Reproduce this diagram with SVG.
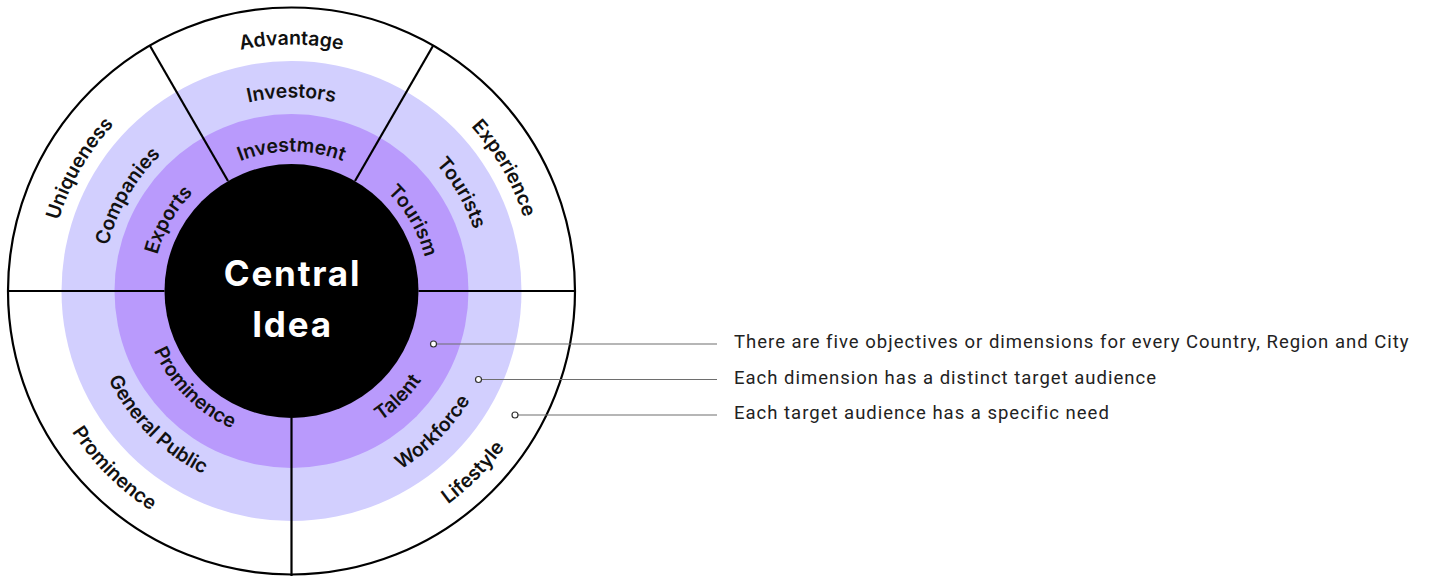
<svg xmlns="http://www.w3.org/2000/svg" width="1429" height="576" viewBox="0 0 1429 576">
<style>
.lbl{font-family:Inter,"Work Sans","Liberation Sans",sans-serif;font-weight:600;font-size:19.5px;fill:#111}
.ctr{font-family:Inter,"Liberation Sans",sans-serif;font-weight:700;font-size:35px;letter-spacing:1.8px;fill:#fff}
.div{stroke:#000;stroke-width:2.2;fill:none}
.call{stroke:#6e6e6e;stroke-width:1.2;fill:none}
.dot{fill:#fff;stroke:#333;stroke-width:1.2}
.note{font-family:Roboto,"Liberation Sans",sans-serif;font-size:18.5px;letter-spacing:1px;fill:#222}
</style>
<defs>
<path id="pAdv" d="M45,291 A246.5,246.5 0 0 1 538,291"/>
<path id="pInv" d="M98,291 A193.5,193.5 0 0 1 485,291"/>
<path id="pInvm" d="M152,291 A139.5,139.5 0 0 1 431,291"/>
<path id="pExp" d="M169.25,79.26 A244.5,244.5 0 0 1 413.75,502.74"/>
<path id="pTou" d="M195.25,124.29 A192.5,192.5 0 0 1 387.75,457.71"/>
<path id="pTism" d="M222.25,171.06 A138.5,138.5 0 0 1 360.75,410.94"/>
<path id="pUni" d="M169.25,502.74 A244.5,244.5 0 0 1 413.75,79.26"/>
<path id="pCom" d="M196.75,455.11 A189.5,189.5 0 0 1 386.25,126.89"/>
<path id="pExpo" d="M222,411.38 A139,139 0 0 1 361,170.62"/>
<path id="pLife" d="M104.47,478.03 A264.5,264.5 0 0 0 478.53,103.97"/>
<path id="pWork" d="M143.36,439.14 A209.5,209.5 0 0 0 439.64,142.86"/>
<path id="pTal" d="M180.13,402.37 A157.5,157.5 0 0 0 402.87,179.63"/>
<path id="pPro" d="M106.24,105.74 A262,262 0 0 0 476.76,476.26"/>
<path id="pGen" d="M146.9,146.4 A204.5,204.5 0 0 0 436.1,435.6"/>
<path id="pProi" d="M184.73,184.23 A151,151 0 0 0 398.27,397.77"/>
</defs>
<rect width="1429" height="576" fill="#fff"/>
<g id="rings">
<circle cx="291.5" cy="291" r="230" fill="#D2CFFE"/>
<circle cx="291.5" cy="291" r="177" fill="#B99AFC"/>
</g>
<g id="center">
<circle cx="291.5" cy="291" r="127" fill="#000"/>
<text class="ctr" x="292.5" y="286" text-anchor="middle">Central</text>
<text class="ctr" x="292.5" y="337" text-anchor="middle">Idea</text>
</g>
<g id="dividers">
<line class="div" x1="228" y1="181" x2="149.5" y2="45"/>
<line class="div" x1="355" y1="181" x2="433.5" y2="45"/>
<line class="div" x1="164.5" y1="291" x2="8" y2="291"/>
<line class="div" x1="418.5" y1="291" x2="575" y2="291"/>
<line class="div" x1="291.5" y1="418" x2="291.5" y2="576"/>
<circle class="div" cx="291.5" cy="291" r="283.5"/>
</g>
<g id="sector-investment">
<text class="lbl" text-anchor="middle"><textPath href="#pAdv" startOffset="50%">Advantage</textPath></text>
<text class="lbl" text-anchor="middle"><textPath href="#pInv" startOffset="50%">Investors</textPath></text>
<text class="lbl" text-anchor="middle"><textPath href="#pInvm" startOffset="50%">Investment</textPath></text>
</g>
<g id="sector-tourism">
<text class="lbl" text-anchor="middle"><textPath href="#pExp" startOffset="50%">Experience</textPath></text>
<text class="lbl" text-anchor="middle"><textPath href="#pTou" startOffset="50%">Tourists</textPath></text>
<text class="lbl" text-anchor="middle"><textPath href="#pTism" startOffset="50%">Tourism</textPath></text>
</g>
<g id="sector-exports">
<text class="lbl" text-anchor="middle"><textPath href="#pUni" startOffset="50%">Uniqueness</textPath></text>
<text class="lbl" text-anchor="middle"><textPath href="#pCom" startOffset="50%">Companies</textPath></text>
<text class="lbl" text-anchor="middle"><textPath href="#pExpo" startOffset="50%">Exports</textPath></text>
</g>
<g id="sector-talent">
<text class="lbl" text-anchor="middle"><textPath href="#pLife" startOffset="50%">Lifestyle</textPath></text>
<text class="lbl" text-anchor="middle"><textPath href="#pWork" startOffset="50%">Workforce</textPath></text>
<text class="lbl" text-anchor="middle"><textPath href="#pTal" startOffset="50%">Talent</textPath></text>
</g>
<g id="sector-prominence">
<text class="lbl" text-anchor="middle"><textPath href="#pPro" startOffset="50%">Prominence</textPath></text>
<text class="lbl" text-anchor="middle"><textPath href="#pGen" startOffset="50%">General Public</textPath></text>
<text class="lbl" text-anchor="middle"><textPath href="#pProi" startOffset="50%">Prominence</textPath></text>
</g>
<g id="connectors">
<line class="call" x1="433.5" y1="344" x2="717" y2="344"/>
<line class="call" x1="478.5" y1="379.5" x2="717" y2="379.5"/>
<line class="call" x1="515" y1="415" x2="717" y2="415"/>
<circle class="dot" cx="433.5" cy="344" r="3"/>
<circle class="dot" cx="478.5" cy="379.5" r="3"/>
<circle class="dot" cx="515" cy="415" r="3"/>
</g>
<g id="notes">
<text class="note" x="734" y="348">There are five objectives or dimensions for every Country, Region and City</text>
<text class="note" x="734" y="384">Each dimension has a distinct target audience</text>
<text class="note" x="734" y="419">Each target audience has a specific need</text>
</g>
</svg>
